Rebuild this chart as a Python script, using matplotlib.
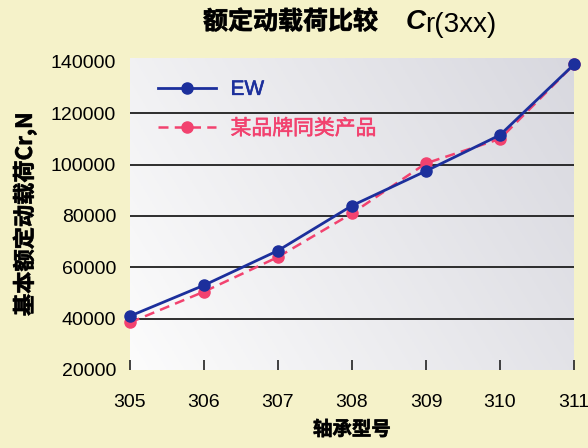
import numpy as np
import matplotlib
matplotlib.use('Agg')
import matplotlib.pyplot as plt
import matplotlib.patheffects as pe
from matplotlib.colors import to_rgb

plt.rcParams['font.family'] = ['Noto Sans CJK SC', 'DejaVu Sans']

# 数据
models = [305, 306, 307, 308, 309, 310, 311]
ew = [41000, 53000, 66500, 84000, 97500, 111500, 139000]
other = [38500, 50500, 64000, 81000, 100500, 110000, 139000]
yticks = [20000, 40000, 60000, 80000, 100000, 120000, 140000]
grid_vals = [40000, 60000, 80000, 100000, 120000]

bg = '#f5f2c9'
blue = '#1c2f9c'
pink = '#f2426f'
bold_fx = [pe.withStroke(linewidth=0.5, foreground='#1a1a1a')]

fig = plt.figure(figsize=(5.88, 4.48), dpi=100, facecolor=bg)
ax = fig.add_axes([130/588, 1-370/448, 444/588, 312/448])
ax.set_facecolor(bg)

# 背景渐变
nx, ny = 200, 100
xx, yy = np.meshgrid(np.linspace(0, 1, nx), np.linspace(1, 0, ny))
t = np.clip(0.7*xx + 0.3*yy, 0, 1)[..., None]
c0 = np.array(to_rgb('#fcfcfc'))
c1 = np.array(to_rgb('#d8d8df'))
img = c0*(1-t) + c1*t
ax.imshow(img, extent=[0, 1, 0, 1], transform=ax.transAxes, aspect='auto', zorder=0)

for g in grid_vals:
    ax.axhline(g, color='#1e1e1e', lw=1.3, zorder=1)

ax.plot(models, other, color=pink, lw=1.8, ls=(0, (4, 2.5)), marker='o',
        ms=8, label='某品牌同类产品', zorder=3, clip_on=False)
ax.plot(models, ew, color=blue, lw=2.0, marker='o', ms=8,
        label='EW', zorder=4, clip_on=False)

ax.set_xlim(305, 311)
ax.set_ylim(20000, 141500)
ax.set_xticks(models)
ax.set_xticklabels([str(m) for m in models], family='Liberation Sans', fontsize=14)
ax.set_yticks(yticks)
ax.set_yticklabels([str(v) for v in yticks], family='Liberation Sans', fontsize=14)
ax.tick_params(axis='x', direction='in', length=7, width=1.2, pad=17, color='#222222')
ax.tick_params(axis='y', length=0, pad=10)
for s in ax.spines.values():
    s.set_visible(False)

ax.set_xlabel('轴承型号', fontsize=14, fontweight='bold', labelpad=7,
              path_effects=bold_fx)
ax.set_ylabel('基本额定动载荷Cr,N', fontsize=16, fontweight='bold', labelpad=10,
              path_effects=bold_fx)

handles, labels = ax.get_legend_handles_labels()
leg = ax.legend(handles[::-1], labels[::-1], loc='upper left', bbox_to_anchor=(0.02, 0.99),
                frameon=False, prop={'family': ['Liberation Sans', 'Noto Sans CJK SC'], 'size': 15},
                handlelength=2.8, handletextpad=0.7, labelspacing=0.95)
for txt, col in zip(leg.get_texts(), [blue, pink]):
    txt.set_color(col)
    txt.set_path_effects([pe.withStroke(linewidth=0.4, foreground=col)])

# 标题
ty = 1 - 22/448
fig.text(203/588, ty, '额定动载荷比较', fontsize=18, fontweight='bold', ha='left', va='center',
         path_effects=bold_fx)
fig.text(406/588, ty, 'C', family='Liberation Sans', fontsize=20, fontweight='bold',
         style='italic', ha='left', va='center')
fig.text(425/588, ty - 0.006, 'r(3xx)', family='Liberation Sans', fontsize=20,
         ha='left', va='center')

fig.savefig('out.png', dpi=100, facecolor=bg)
